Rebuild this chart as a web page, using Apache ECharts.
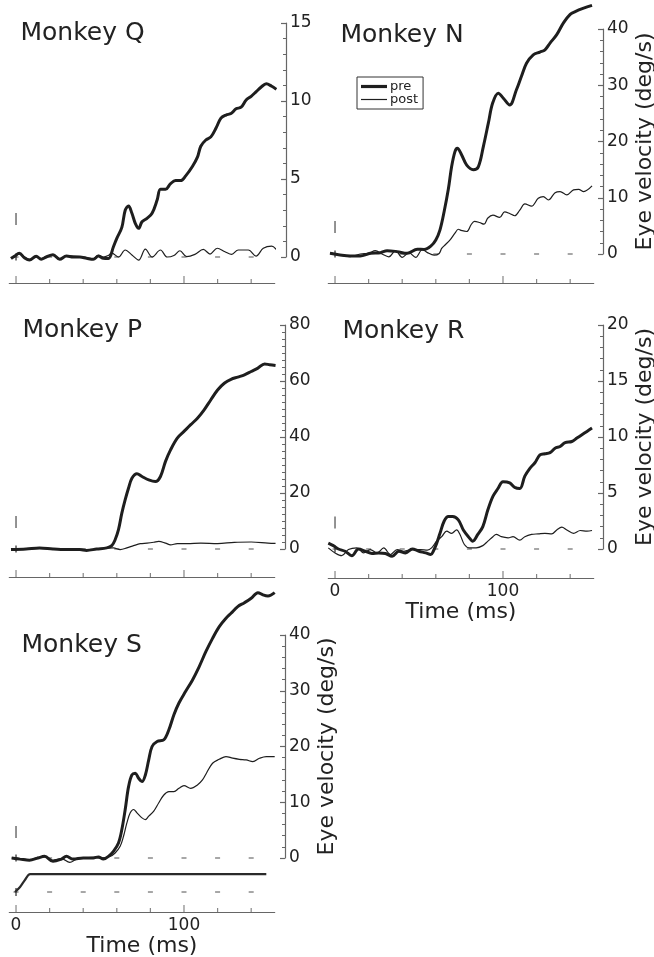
<!DOCTYPE html>
<html>
<head>
<meta charset="utf-8">
<script src="https://cdn.jsdelivr.net/npm/echarts@6/dist/echarts.min.js"></script>
<style>
html,body{margin:0;padding:0;background:#fff;}
#chart{width:654px;height:957px;}
</style>
</head>
<body>
<div id="chart"></div>
<script>
// ---------- DATA ----------
const panelNames = ['Monkey Q', 'Monkey N', 'Monkey P', 'Monkey R', 'Monkey S'];
const yMaxes = [15, 40, 80, 20, 40];
const yIntervals = [5, 10, 20, 5, 10];
const xTickMajor = [0, 100];
const xTickMinor = [20, 40, 60, 80, 120, 140];
const dashTimes = [0, 20, 40, 60, 80, 100, 120, 140];
const onsetMs = 0;

// Monkey Q
const tPreQ = [-3,-1,2,5,8,12,15,18,22,26,30,34,38,42,46,49,52,55,58,60,63,65,67,69,71,73,75,78,81,84,86,89,92,95,98,101,105,108,110,113,116,119,122,125,128,131,134,137,140,143,146,149,152,155];
const preQ = [-0.1,0.05,0.24,-0.05,-0.2,0.05,-0.15,0,0.15,-0.15,0.06,0,0,-0.08,-0.15,0.06,-0.08,-0.1,0.66,1.2,1.9,3.0,3.27,2.8,2.16,1.84,2.26,2.48,2.8,3.65,4.34,4.34,4.7,4.9,4.9,5.2,5.8,6.4,7.1,7.5,7.7,8.25,8.9,9.1,9.2,9.5,9.6,10.06,10.3,10.6,10.9,11.1,10.96,10.75];
const tPostQ = [-3,-1,2,5,8,12,15,18,22,26,30,34,38,42,46,49,52,55,57,61,65,69,73,77,81,86,90,94,97.6,101.6,106.5,111.5,115.5,119.8,124.4,128.4,132.3,138.3,142.9,147.2,152.2,155.2];
const postQ = [-0.05,0,0.2,0,-0.15,0,-0.1,0.05,0.1,-0.1,0.05,0.05,0.02,-0.05,-0.1,0.1,0,0.1,0.25,0,0.45,0.13,-0.2,0.5,0,0.45,0,0.1,0.4,0.02,0.17,0.49,0.19,0.56,0.34,0.17,0.45,0.45,0.06,0.56,0.7,0.45];

// Monkey N
const tPreN = [-3,3,9,15,21,27,31,37,43,49,53,57,60,62.5,65,67.5,69.4,71.4,72.8,75.4,78.4,82.3,85.3,88.3,91.3,93.8,97.2,100.2,104,108,111,114,118,122,125,128,132,136,140,143,148,153];
const preN = [0.12,-0.18,-0.36,-0.36,0.12,0.24,0.6,0.42,0.12,0.85,0.8,1.4,2.5,4.3,7.6,11.6,15.5,18.2,18.8,17.6,15.8,15.0,15.5,19.1,23.3,26.8,28.6,27.7,26.5,29.2,31.6,33.9,35.4,35.9,36.3,37.5,39,41.1,42.6,43.1,43.7,44.2];
const tPostN = [-3,3,9,15,20,24,28,32,36,40,44,48,52,55,59,62,63.5,65.5,68.5,71.4,73.4,75,78.4,81,83,86,88.7,91,94,98,101,104,107,110,113,117,121,124,127,131,134,138,142,145,148,153];
const postN = [0.2,-0.18,-0.48,0,0.12,0.6,0,-0.5,0.6,-0.6,0.24,-0.6,0.8,0.24,-0.2,0.1,1.0,1.6,2.5,3.7,4.4,4.2,4.0,5.2,5.8,5.6,5.3,6.4,6.9,6.5,7.5,7.2,6.8,7.8,8.9,8.5,9.9,10.2,9.6,10.9,11.1,10.5,11.4,11.5,11.1,12.1];

// Monkey P
const tPreP = [-3,6,14,22,30,38,42,48,54,57,59,61,63,65,67,69,72,75,79,83,86,89,92,96,100,104,108,112,116,120,124,128,132,136,140,144,148,151,154.5];
const preP = [-0.2,0,0.4,0,-0.2,-0.2,-0.5,0,0.4,1.2,3.3,6.9,12.8,17.6,21.8,25.3,26.9,25.9,24.7,24.1,25.9,31.3,35.4,39.6,42,44.4,46.7,49.7,53.3,56.8,59.2,60.6,61.4,62.2,63.4,64.6,66.1,65.8,65.5];
const tPostP = [-3,6,14,22,30,38,42,48,54,58,62,66,70,74,78,82,85,89,92,96,102,110,120,130,140,150,154.5];
const postP = [-0.2,0,0.3,0,-0.2,-0.1,-0.3,0,0.3,0.4,-0.2,0.4,1.2,1.9,2.1,2.4,2.7,2.1,1.5,1.9,1.9,2.1,1.9,2.4,2.5,2.1,2.0];

// Monkey R
const tPreR = [-4,-1,2,6,10,14,18,22,26,30,34,38,42,46,50,54,57,58.5,60.5,62.5,65,67.5,70,73.4,76.4,79.4,82,85,88,91,94,97,100,104,107,110,113,116,119,122,125,128,131,134,137,141,144,147,150,153];
const preR = [0.53,0.3,0,-0.2,-0.6,0,-0.2,-0.4,-0.35,-0.4,-0.65,-0.2,-0.35,0,-0.2,-0.35,-0.5,-0.2,0.5,1.4,2.5,2.9,2.9,2.6,1.7,1.1,0.7,1.3,2.0,3.5,4.7,5.4,6.0,5.9,5.5,5.4,6.5,7.2,7.7,8.4,8.5,8.6,9.0,9.15,9.5,9.6,9.9,10.2,10.5,10.8];
const tPostR = [-4,0,4,8,13,17,21,25,29,33,37,41,46,51,55,57.5,60.5,63.5,66.5,69.4,72.4,74.4,77,80,84,88,91,94,96,99,103,106,110,113,117,121,125,129,132,135,138,142,146,150,153];
const postR = [0.1,-0.35,-0.6,-0.05,0.1,-0.35,-0.05,-0.35,0.1,-0.5,-0.05,-0.2,-0.05,-0.05,-0.1,0.1,0.7,1.1,1.6,1.4,1.7,1.3,0.4,0.1,0.1,0.3,0.7,1.1,1.3,1.1,1.0,1.1,0.8,1.1,1.3,1.35,1.4,1.35,1.7,1.95,1.7,1.4,1.65,1.6,1.65];

// Monkey S
const tPreS = [-2.6,2.4,8,13,17,22,27,30,34,40,46,49,52,55,58,61,63,65,67,69,71,73,75,77,79,81,84,88,91,94,97,101,105,109,113,117,121,125,128,132,136,140,144,147,150,154];
const preS = [0,-0.2,-0.4,0,0.3,-0.6,-0.2,0.3,-0.2,0,0,0.2,-0.2,0.3,1.2,2.7,5.1,8.7,12.8,14.9,15.2,14.3,13.7,14.9,17.6,20,20.9,21.2,23,25.7,27.8,29.9,31.9,34.3,37,39.4,41.5,43,43.9,45.1,45.8,46.6,47.6,47.2,47,47.6];
const tPostS = [-2.6,2.4,8,13,17,22,27,32,36,40,46,50,56,59,62,64,66,68,70,72,75,77,79,82,85,88,91,94,97,100,104,108,111,113.5,117,121,125,129,133,137,141,145,149,154];
const postS = [0,-0.1,-0.3,0.1,0.2,-0.4,-0.1,-0.8,-0.2,0,0.1,0,0.3,0.9,2.1,3.9,6.3,8.1,8.7,8.1,7.2,6.9,7.5,8.4,9.9,11.3,11.9,11.9,12.5,13,12.5,13.1,14,15.3,17,17.7,18.2,17.9,17.7,17.6,17.3,17.9,18.2,18.2];
const tTargetS = [-0.6, 2.4, 5.4, 8.4, 149];
const targetS = [-6.1, -5.2, -3.9, -2.9, -2.9];
const targetBase = -6.1;

// ---------- LAYOUT / STYLE ----------
const FONT = 'DejaVu Sans';
const INK = '#1e1e1e';
const AX = '#666';
const layout = [
  {left: 9.3,  top: 23,  h: 234, yOff: 11.3, xOff: 26, xLabels: false, yName: false, markOff: 38, tl: 20.5, tt: 21, minor: 5},
  {left: 328.3, top: 29, h: 225, yOff: 9.3,  xOff: 29, xLabels: false, yName: true,  markOff: 27, tl: 340.5, tt: 23, minor: 5},
  {left: 9.3,  top: 325, h: 224, yOff: 10.3, xOff: 28, xLabels: false, yName: false, markOff: 27, tl: 22.5, tt: 318, minor: 8},
  {left: 328.3, top: 325, h: 224, yOff: 9.3, xOff: 29, xLabels: true,  yName: true,  markOff: 26.5, tl: 342.5, tt: 319, minor: 5},
  {left: 9.3,  top: 635, h: 223, yOff: 10.3, xOff: 54, xLabels: true,  yName: true,  markOff: 26, tl: 21.5, tt: 633, minor: 5}
];
const W = 265.4;
const pairs = (t, v) => t.map((x, i) => [x, v[i]]);
const seriesData = [
  [pairs(tPreQ, preQ), pairs(tPostQ, postQ)],
  [pairs(tPreN, preN), pairs(tPostN, postN)],
  [pairs(tPreP, preP), pairs(tPostP, postP)],
  [pairs(tPreR, preR), pairs(tPostR, postR)],
  [pairs(tPreS, preS), pairs(tPostS, postS)]
];

const grid = [], xAxis = [], yAxis = [], series = [], title = [];
const deco = {type: 'scatter', silent: true, clip: false, symbol: 'rect', z: 1};
layout.forEach((L, i) => {
  grid.push({left: L.left, top: L.top, width: W, height: L.h, outerBoundsMode: 'none'});
  title.push({text: panelNames[i], left: L.tl, top: L.tt, padding: 0,
    textStyle: {fontFamily: FONT, fontSize: 25, fontWeight: 'normal', color: '#222'}});
  xAxis.push({
    type: 'value', gridIndex: i, min: -4, max: 154, position: 'bottom', offset: L.xOff,
    axisLine: {show: true, onZero: false, lineStyle: {color: AX, width: 1.2}},
    axisTick: {show: false},
    axisLabel: {show: L.xLabels, customValues: xTickMajor, margin: 5, fontFamily: FONT, fontSize: 17, color: '#222'},
    splitLine: {show: false},
    name: L.xLabels ? 'Time (ms)' : '', nameLocation: 'middle', nameGap: 18,
    nameTextStyle: {fontFamily: FONT, fontSize: 22, color: '#222'}
  });
  yAxis.push({
    type: 'value', gridIndex: i, min: 0, max: yMaxes[i], interval: yIntervals[i],
    position: 'right', offset: L.yOff,
    axisLine: {show: true, onZero: false, lineStyle: {color: AX, width: 1.2}},
    axisTick: {show: true, inside: true, length: 5, lineStyle: {color: AX, width: 1.2}},
    minorTick: {show: true, splitNumber: L.minor, length: 3, lineStyle: {color: AX, width: 1}},
    axisLabel: {margin: 4, fontFamily: FONT, fontSize: 17, color: '#222'},
    splitLine: {show: false},
    name: L.yName ? 'Eye velocity (deg/s)' : '', nameLocation: 'middle', nameRotate: 90, nameGap: 31,
    nameTextStyle: {fontFamily: FONT, fontSize: 22, color: '#222'}
  });
  // x-axis ticks (pointing up from the offset axis line)
  series.push(Object.assign({}, deco, {xAxisIndex: i, yAxisIndex: i,
    symbolSize: [1.2, 7], symbolOffset: [0, L.xOff - 3.5], itemStyle: {color: AX},
    data: xTickMajor.map(t => [t, 0])}));
  series.push(Object.assign({}, deco, {xAxisIndex: i, yAxisIndex: i,
    symbolSize: [1.2, 4], symbolOffset: [0, L.xOff - 2], itemStyle: {color: AX},
    data: xTickMinor.map(t => [t, 0])}));
  // zero reference dashes
  series.push(Object.assign({}, deco, {xAxisIndex: i, yAxisIndex: i,
    symbolSize: [5, 1.3], itemStyle: {color: '#555'},
    data: dashTimes.map(t => [t, 0])}));
  // onset marks
  series.push(Object.assign({}, deco, {xAxisIndex: i, yAxisIndex: i,
    symbolSize: [1.6, 12], symbolOffset: [0, -L.markOff], itemStyle: {color: '#555'},
    data: [[onsetMs, 0]]}));
  series.push(Object.assign({}, deco, {xAxisIndex: i, yAxisIndex: i,
    symbolSize: [1.6, 7], itemStyle: {color: '#333'},
    data: [[onsetMs, 0]]}));
  series.push({name: 'post', type: 'line', xAxisIndex: i, yAxisIndex: i, data: seriesData[i][1],
    symbol: 'none', showSymbol: false, clip: false, smooth: 0.35, z: 3,
    lineStyle: {color: INK, width: 1.2}, itemStyle: {color: INK}});
  series.push({name: 'pre', type: 'line', xAxisIndex: i, yAxisIndex: i, data: seriesData[i][0],
    symbol: 'none', showSymbol: false, clip: false, smooth: 0.35, z: 4,
    lineStyle: {color: INK, width: 3}, itemStyle: {color: INK}});
});
// Monkey S target trace
series.push(Object.assign({}, deco, {xAxisIndex: 4, yAxisIndex: 4,
  symbolSize: [5, 1.3], itemStyle: {color: '#555'},
  data: dashTimes.map(t => [t, targetBase])}));
series.push(Object.assign({}, deco, {xAxisIndex: 4, yAxisIndex: 4,
  symbolSize: [1.6, 8], itemStyle: {color: '#333'},
  data: [[onsetMs, targetBase]]}));
series.push({name: 'target', type: 'line', xAxisIndex: 4, yAxisIndex: 4, data: pairs(tTargetS, targetS),
  symbol: 'none', showSymbol: false, clip: false, smooth: 0.3, z: 3,
  lineStyle: {color: '#2a2a2a', width: 2.2}});

const option = {
  animation: false,
  backgroundColor: '#fff',
  textStyle: {fontFamily: FONT},
  title: title,
  legend: {
    data: [
      {name: 'pre', icon: 'path://M0,0H26V3.2H0Z'},
      {name: 'post', icon: 'path://M0,0H26V1.2H0Z'}
    ],
    left: 357, top: 77, orient: 'vertical',
    itemGap: 0, itemWidth: 26, itemHeight: 12, padding: [3, 5, 3, 4],
    borderColor: '#333', borderWidth: 1, borderRadius: 0,
    selectedMode: false,
    textStyle: {fontFamily: FONT, fontSize: 13, color: '#222', padding: [0, 0, 0, -2]}
  },
  grid: grid, xAxis: xAxis, yAxis: yAxis, series: series
};
const chart = echarts.init(document.getElementById('chart'), null, {renderer: 'canvas'});
chart.setOption(option);
</script>
</body>
</html>
